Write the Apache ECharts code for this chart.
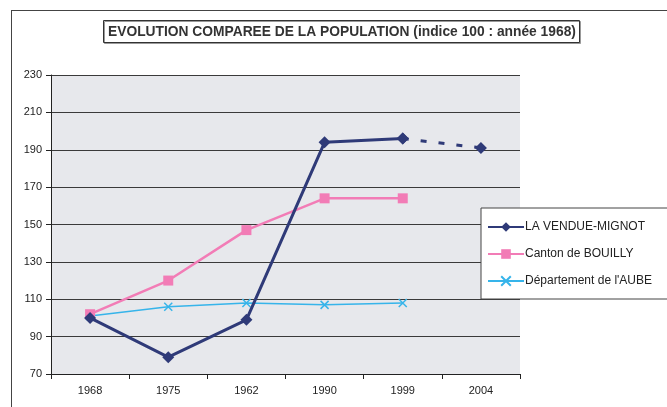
<!DOCTYPE html>
<html>
<head>
<meta charset="utf-8">
<script src="https://cdn.jsdelivr.net/npm/echarts@6/dist/echarts.min.js"></script>
<style>
    html, body { margin: 0; padding: 0; background: #fff; }
    #wrap { position: relative; width: 667px; height: 407px; }
    #frame { position: absolute; left: 11px; top: 10px; right: 0; bottom: 0;
        border-left: 1px solid #444; border-top: 1px solid #444; }
    #chart { position: absolute; left: 0; top: 0; width: 667px; height: 407px; }
</style>
</head>
<body>
<div id="wrap">
    <div id="frame"></div>
    <div id="chart"></div>
</div>
<script>
const years = ['1968', '1975', '1962', '1990', '1999', '2004'];
const vendue = [100, 79, 99, 194, 196, '-'];
const vendueProjection = ['-', '-', '-', '-', 196, 191];
const canton = [102, 120, 147, 164, 164, '-'];
const aube = [101, 106, 108, 107, 108, '-'];
const yTicks = { min: 70, max: 230, step: 20 };

const crossIcon = 'path://M0,0L10,10M10,0L0,10';

function getOption() {
    let option = {
        animation: false,
        textStyle: { fontFamily: 'Liberation Sans, Arial, sans-serif' },
        title: {
            text: 'EVOLUTION COMPAREE DE LA POPULATION (indice 100 : année 1968)',
            left: 103,
            top: 20,
            padding: [5, 4, 4, 5],
            borderWidth: 1,
            borderColor: '#333',
            backgroundColor: '#fff',
            shadowColor: '#999',
            shadowOffsetX: 1,
            shadowOffsetY: 1,
            textStyle: {
                fontSize: 13.8,
                fontWeight: 'bold',
                color: '#333'
            }
        },
        legend: {
            orient: 'vertical',
            left: 481,
            top: 208,
            padding: [13, 30, 12, 6],
            itemGap: 15,
            itemWidth: 36,
            itemHeight: 12,
            borderWidth: 1,
            borderColor: '#444',
            backgroundColor: '#fff',
            data: ['LA VENDUE-MIGNOT', 'Canton de BOUILLY', "Département de l'AUBE"],
            textStyle: { fontSize: 12, color: '#222', padding: [0, 0, 0, -4] }
        },
        grid: {
            show: true,
            left: 51,
            right: 147,
            top: 75,
            bottom: 33,
            backgroundColor: '#e7e8ec',
            borderWidth: 0
        },
        xAxis: {
            type: 'category',
            boundaryGap: true,
            data: years,
            axisLine: { lineStyle: { color: '#222', width: 1 } },
            axisTick: { show: true, length: 5, lineStyle: { color: '#222' } },
            axisLabel: { fontSize: 11, color: '#222', margin: 11 }
        },
        yAxis: {
            type: 'value',
            min: yTicks.min,
            max: yTicks.max,
            interval: yTicks.step,
            axisLine: { show: true, lineStyle: { color: '#222', width: 1 } },
            axisTick: { show: true, length: 5, lineStyle: { color: '#222' } },
            axisLabel: { fontSize: 11, color: '#222', margin: 9 },
            splitLine: { lineStyle: { color: '#3a3a3a', width: 1.2 } }
        },
        series: [
            {
                name: 'LA VENDUE-MIGNOT',
                type: 'line',
                data: vendue,
                symbol: 'diamond',
                symbolSize: 12,
                color: '#2f3a78',
                lineStyle: { width: 3 },
                z: 4
            },
            {
                name: 'Canton de BOUILLY',
                type: 'line',
                data: canton,
                symbol: 'rect',
                symbolSize: 10,
                color: '#f27cb6',
                lineStyle: { width: 2.5 },
                z: 3
            },
            {
                name: "Département de l'AUBE",
                type: 'line',
                data: aube,
                symbol: crossIcon,
                symbolSize: 8,
                color: '#36b4ea',
                itemStyle: { borderColor: '#36b4ea', borderWidth: 1.5 },
                lineStyle: { width: 1.5 },
                z: 2
            },
            {
                name: 'LA VENDUE-MIGNOT',
                type: 'line',
                data: vendueProjection,
                symbol: 'diamond',
                symbolSize: 12,
                color: '#2f3a78',
                lineStyle: { width: 3, type: [6, 12] },
                z: 4
            }
        ]
    };
    return option;
}

const myChart = echarts.init(document.getElementById('chart'), null, { renderer: 'canvas' });
myChart.setOption(getOption());
</script>
</body>
</html>
